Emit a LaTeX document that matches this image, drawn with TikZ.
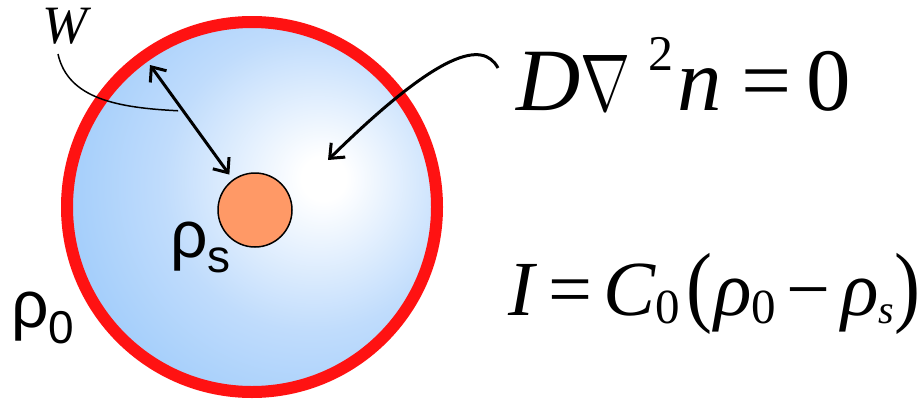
\documentclass[tikz,border=0pt]{standalone}
\usepackage{fontspec}
\usepackage{graphicx}
\usetikzlibrary{arrows.meta}
\newfontfamily\tms{Liberation Serif}
\newfontfamily\ars{Liberation Sans}
\definecolor{ringred}{RGB}{255,18,18}
\definecolor{skyb}{RGB}{140,194,250}
\definecolor{skym}{RGB}{192,220,252}
\definecolor{spot}{RGB}{255,153,102}
\pgfdeclareradialshading{glow}{\pgfpoint{10bp}{4bp}}{color(0bp)=(white);color(3bp)=(white);color(20bp)=(skym);color(42bp)=(skyb);color(100bp)=(skyb)}

\begin{document}
\begin{tikzpicture}[x=1pt,y=-1pt,
  lbl/.style={inner sep=0pt,anchor=base west},
  barb/.style={line width=3pt},
  dbl/.style={barb,{Straight Barb[length=12pt,width=20pt]}-{Straight Barb[length=12pt,width=20pt]}},
  leader/.style={line width=1.5pt}]
\useasboundingbox (0,0) rectangle (920,402);
\shade[shading=glow] (252,207) circle[radius=185];
\draw[ringred,line width=12pt] (252,207) circle[radius=185];
\path
(255,210) node[circle,minimum size=74pt,inner sep=0pt,fill=spot,draw,line width=1.5pt] (spot) {}
(150,65) coordinate (wtop)
(328,160) coordinate (lapto)
(42,43) node[lbl] (W) {\fontsize{54}{54}\selectfont\tms\itshape W}
(170,257) node[lbl] (rhos) {\fontsize{66}{66}\selectfont\ars ρ\raisebox{-15pt}{\fontsize{46}{46}\selectfont s}}
(11,327) node[lbl] (rho0) {\fontsize{66}{66}\selectfont\ars ρ\raisebox{-16pt}{\fontsize{46}{46}\selectfont 0}}
(516,110) node[lbl] (lap) {\fontsize{89}{89}\selectfont\tms\textit{D}\scalebox{6}[8.05]{\fontsize{10}{10}\selectfont$\nabla$}\hspace{18pt}\raisebox{40pt}{\fontsize{50}{50}\selectfont 2}\hspace{4pt}\textit{n}\hspace{20pt}=\hspace{14pt}0}
(508,315) node[lbl] (cur) {\fontsize{78}{78}\selectfont\tms\textit{I}\hspace{11pt}=\hspace{11pt}\textit{C}\raisebox{-8pt}{\fontsize{49}{49}\selectfont 0}\hspace{6pt}\scalebox{1}[1.15]{(}\hspace{2pt}\textit{ρ}\raisebox{-8pt}{\fontsize{49}{49}\selectfont 0}\hspace{10pt}−\hspace{11pt}\textit{ρ}\raisebox{-8pt}{\fontsize{40}{40}\selectfont\itshape s}\scalebox{1}[1.15]{)}};
\path (wtop) -- coordinate[pos=0.4] (wmid) (spot);
\draw[dbl,shorten >=6pt] (wtop) -- (spot);
\draw[leader] ([xshift=16pt,yshift=-10pt]W.south west) .. controls +(10,45) and +(-60,-3) .. ([xshift=-5pt]wmid);
\draw[barb,-{Straight Barb[length=12pt,width=20pt]}] ([xshift=-18pt,yshift=42pt]lap.base west) .. controls +(-15,-28) and +(112,-110) .. (lapto);
\end{tikzpicture}
\end{document}
